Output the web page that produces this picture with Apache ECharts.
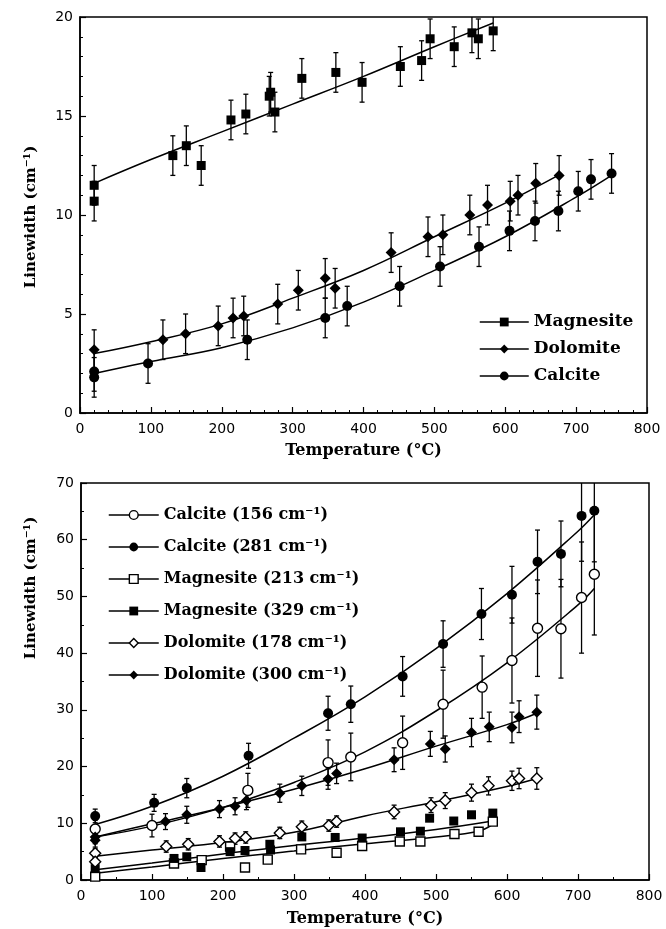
<!DOCTYPE html>
<html>
<head>
<meta charset="utf-8">
<script src="https://cdn.jsdelivr.net/npm/echarts@6/dist/echarts.min.js"></script>
<style>html,body{margin:0;padding:0;background:#fff}#main{width:666px;height:929px}</style>
</head>
<body>
<div id="main"></div>
<script>
// ---- top panel: measured points ----
var magT = [20, 20, 131, 150, 171, 213, 234, 267, 269, 275, 313, 361, 398, 452, 482, 494, 528, 553, 562, 583];
var magW = [11.5, 10.7, 13.0, 13.5, 12.5, 14.8, 15.1, 16.0, 16.2, 15.2, 16.9, 17.2, 16.7, 17.5, 17.8, 18.9, 18.5, 19.2, 18.9, 19.3];
var dolT = [20, 117, 149, 195, 216, 231, 279, 308, 346, 360, 439, 491, 512, 550, 575, 607, 618, 643, 676];
var dolW = [3.2, 3.7, 4.0, 4.4, 4.8, 4.9, 5.5, 6.2, 6.8, 6.3, 8.1, 8.9, 9.0, 10.0, 10.5, 10.7, 11.0, 11.6, 12.0];
var calT = [20, 20, 96, 236, 346, 377, 451, 508, 563, 606, 642, 675, 703, 721, 750];
var calW = [2.1, 1.8, 2.5, 3.7, 4.8, 5.4, 6.4, 7.4, 8.4, 9.2, 9.7, 10.2, 11.2, 11.8, 12.1];
var topErr = 1.0;
// fitted curves
var magFitT = [20, 100, 200, 300, 400, 500, 583];
var magFitW = [11.6, 12.8, 14.2, 15.6, 17.0, 18.5, 19.7];
var dolFitT = [20, 100, 200, 300, 400, 500, 600, 680];
var dolFitW = [3.0, 3.6, 4.5, 5.8, 7.2, 8.9, 10.6, 12.1];
var calFitT = [20, 100, 200, 300, 400, 500, 600, 700, 750];
var calFitW = [2.0, 2.6, 3.3, 4.3, 5.6, 7.2, 8.9, 10.9, 12.0];

// ---- bottom panel ----
var cal156T = [20, 100, 235, 348, 380, 453, 510, 565, 607, 643, 676, 705, 723];
var cal156W = [9.0, 9.6, 15.8, 20.7, 21.7, 24.2, 31.0, 34.0, 38.7, 44.4, 44.3, 49.8, 53.9];
var cal156E = [1.5, 2.0, 3.0, 4.0, 4.2, 4.7, 6.0, 5.5, 7.5, 8.5, 8.7, 9.8, 10.7];
var cal281T = [20, 103, 149, 236, 348, 380, 453, 510, 564, 607, 643, 676, 705, 723];
var cal281W = [11.3, 13.6, 16.2, 21.9, 29.4, 31.0, 35.9, 41.6, 46.9, 50.3, 56.1, 57.5, 64.2, 65.1];
var cal281E = [1.2, 1.5, 1.7, 2.2, 3.0, 3.2, 3.5, 4.1, 4.5, 5.0, 5.6, 5.8, 8.0, 9.0];
var mag213T = [20, 131, 170, 210, 231, 263, 310, 360, 396, 449, 478, 526, 560, 580];
var mag213W = [0.6, 2.9, 3.5, 5.9, 2.2, 3.6, 5.4, 4.8, 6.0, 6.8, 6.8, 8.1, 8.5, 10.3];
var mag329T = [20, 131, 149, 169, 210, 231, 266, 267, 311, 358, 396, 450, 478, 491, 525, 550, 580];
var mag329W = [2.0, 3.8, 4.1, 2.2, 5.0, 5.2, 6.3, 5.3, 7.6, 7.5, 7.4, 8.5, 8.6, 10.9, 10.4, 11.5, 11.8];
var dol178T = [20, 20, 120, 151, 195, 217, 232, 280, 311, 349, 360, 441, 493, 513, 550, 574, 607, 617, 642];
var dol178W = [4.7, 3.2, 5.9, 6.3, 6.8, 7.3, 7.5, 8.3, 9.4, 9.6, 10.3, 12.0, 13.2, 14.0, 15.4, 16.6, 17.5, 17.9, 17.9];
var dol178E = [0.8, 0.8, 1.0, 1.0, 1.0, 1.0, 1.0, 1.0, 1.0, 1.0, 1.0, 1.2, 1.3, 1.4, 1.5, 1.6, 1.7, 1.8, 1.9];
var dol300T = [20, 20, 119, 149, 195, 217, 233, 280, 311, 348, 360, 441, 492, 513, 550, 575, 607, 617, 642];
var dol300W = [7.6, 7.0, 10.3, 11.5, 12.5, 13.0, 14.0, 15.3, 16.6, 17.8, 18.8, 21.2, 24.0, 23.1, 26.0, 27.0, 26.9, 28.8, 29.6];
var dol300E = [1.2, 1.2, 1.4, 1.5, 1.5, 1.5, 1.6, 1.6, 1.7, 1.8, 1.8, 2.1, 2.2, 2.3, 2.5, 2.6, 2.7, 2.8, 3.0];
// fitted curves
var fitT = [20, 100, 200, 300, 400, 500, 600, 700, 723];
var cal156FitW = [7.6, 9.5, 12.8, 17.2, 22.6, 29.8, 38.3, 48.5, 51.4];
var cal281FitW = [9.8, 13.0, 18.3, 25.0, 32.3, 40.8, 50.5, 61.5, 64.4];
var magFitT2 = [20, 100, 200, 300, 400, 500, 560, 580];
var mag213FitW = [1.2, 2.3, 3.8, 5.1, 6.4, 7.6, 8.6, 9.8];
var mag329FitT = [20, 100, 200, 300, 400, 500, 580];
var mag329FitW = [1.8, 3.0, 4.6, 6.1, 7.4, 8.9, 10.4];
var dolFitT2 = [20, 100, 200, 300, 400, 500, 600, 642];
var dol178FitW = [4.2, 5.3, 6.6, 8.4, 11.3, 13.8, 16.5, 17.9];
var dol300FitW = [7.6, 9.9, 12.8, 16.0, 19.6, 23.6, 27.4, 29.4];

var FILLED = {color: '#000', opacity: 1};
var OPEN = {color: '#fff', borderColor: '#000', borderWidth: 1.4, opacity: 1};

function pairs(xs, ys) {
    return xs.map(function (x, i) { return [x, ys[i]]; });
}

function fitLine(name, T, W, symbol, style, gi) {
    return {
        name: name, type: 'line', xAxisIndex: gi, yAxisIndex: gi,
        data: pairs(T, W), smooth: 0.4, showSymbol: false, symbol: symbol,
        lineStyle: {color: '#000', width: 1.5}, itemStyle: style,
        silent: true, z: 2
    };
}

function points(name, T, W, symbol, size, style, gi) {
    return {
        name: name, type: 'scatter', xAxisIndex: gi, yAxisIndex: gi,
        data: pairs(T, W), symbol: symbol, symbolSize: size,
        itemStyle: style, z: 4
    };
}

function errBars(T, W, E, gi) {
    return {
        type: 'custom', xAxisIndex: gi, yAxisIndex: gi, clip: true, z: 1, silent: true,
        data: T.map(function (t, i) {
            var e = typeof E === 'number' ? E : E[i];
            return [t, W[i] - e, W[i] + e];
        }),
        encode: {x: 0, y: [1, 2]},
        renderItem: function (params, api) {
            var lo = api.coord([api.value(0), api.value(1)]);
            var hi = api.coord([api.value(0), api.value(2)]);
            var c = 2.5;
            var st = {stroke: '#000', lineWidth: 1.3};
            return {type: 'group', children: [
                {type: 'line', shape: {x1: lo[0], y1: lo[1], x2: hi[0], y2: hi[1]}, style: st},
                {type: 'line', shape: {x1: lo[0] - c, y1: lo[1], x2: lo[0] + c, y2: lo[1]}, style: st},
                {type: 'line', shape: {x1: hi[0] - c, y1: hi[1], x2: hi[0] + c, y2: hi[1]}, style: st}
            ]};
        }
    };
}

var labelFont = {color: '#000', fontFamily: 'DejaVu Sans', fontSize: 14};
var titleFont = {color: '#000', fontFamily: 'DejaVu Serif', fontWeight: 'bold', fontSize: 16};

function xAxis(gi, minorSplit, gap) {
    return {
        type: 'value', gridIndex: gi, min: 0, max: 800, interval: 100,
        name: 'Temperature (°C)', nameLocation: 'middle', nameGap: gap, nameTextStyle: titleFont,
        axisLine: {lineStyle: {color: '#000', width: 1.5}},
        axisTick: {inside: true, length: 6, lineStyle: {color: '#000', width: 1.2}},
        minorTick: {show: true, splitNumber: minorSplit, length: 3, lineStyle: {color: '#000', width: 1}},
        axisLabel: Object.assign({margin: 9}, labelFont),
        splitLine: {show: false}
    };
}

function yAxis(gi, max, interval, minorSplit) {
    return {
        type: 'value', gridIndex: gi, min: 0, max: max, interval: interval,
        axisLine: {show: true, lineStyle: {color: '#000', width: 1.5}},
        axisTick: {show: true, inside: true, length: 6, lineStyle: {color: '#000', width: 1.2}},
        minorTick: {show: true, splitNumber: minorSplit, length: 3, lineStyle: {color: '#000', width: 1}},
        axisLabel: Object.assign({margin: 7}, labelFont),
        splitLine: {show: false}
    };
}

function legendItem(name, style) {
    return {name: name, itemStyle: style, lineStyle: {color: '#000', width: 1.5}};
}

var topNames = ['Magnesite', 'Dolomite', 'Calcite'];
var botNames = ['Calcite (156 cm\u207B\u00B9)', 'Calcite (281 cm\u207B\u00B9)', 'Magnesite (213 cm\u207B\u00B9)',
    'Magnesite (329 cm\u207B\u00B9)', 'Dolomite (178 cm\u207B\u00B9)', 'Dolomite (300 cm\u207B\u00B9)'];

var chart = echarts.init(document.getElementById('main'));
chart.setOption({
    backgroundColor: '#fff',
    animation: false,
    grid: [
        {left: 80, top: 17, width: 567, height: 396, show: true, borderColor: '#000', borderWidth: 1.5},
        {left: 81, top: 483, width: 568, height: 397, show: true, borderColor: '#000', borderWidth: 1.5}
    ],
    xAxis: [xAxis(0, 5, 30), xAxis(1, 2, 31)],
    yAxis: [yAxis(0, 20, 5, 5), yAxis(1, 70, 10, 2)],
    legend: [
        {
            orient: 'vertical', left: 474, top: 308, itemWidth: 49, itemHeight: 11, itemGap: 9,
            textStyle: {color: '#000', fontFamily: 'DejaVu Serif', fontWeight: 'bold', fontSize: 17, lineHeight: 18},
            data: [legendItem(topNames[0], FILLED), legendItem(topNames[1], FILLED), legendItem(topNames[2], FILLED)]
        },
        {
            orient: 'vertical', left: 103, top: 501, itemWidth: 50, itemHeight: 11, itemGap: 14,
            textStyle: {color: '#000', fontFamily: 'DejaVu Serif', fontWeight: 'bold', fontSize: 16, lineHeight: 18},
            data: [legendItem(botNames[0], OPEN), legendItem(botNames[1], FILLED), legendItem(botNames[2], OPEN),
                legendItem(botNames[3], FILLED), legendItem(botNames[4], OPEN), legendItem(botNames[5], FILLED)]
        }
    ],
    graphic: [
        {type: 'text', x: 31, y: 217, rotation: Math.PI / 2,
            style: {text: 'Linewidth (cm\u207B\u00B9)', fill: '#000', font: 'bold 15px "DejaVu Serif"', align: 'center', verticalAlign: 'middle'}},
        {type: 'text', x: 31, y: 588, rotation: Math.PI / 2,
            style: {text: 'Linewidth (cm\u207B\u00B9)', fill: '#000', font: 'bold 15px "DejaVu Serif"', align: 'center', verticalAlign: 'middle'}}
    ],
    series: [
        // top panel
        fitLine(topNames[0], magFitT, magFitW, 'rect', FILLED, 0),
        fitLine(topNames[1], dolFitT, dolFitW, 'diamond', FILLED, 0),
        fitLine(topNames[2], calFitT, calFitW, 'circle', FILLED, 0),
        errBars(magT, magW, topErr, 0),
        errBars(dolT, dolW, topErr, 0),
        errBars(calT, calW, topErr, 0),
        points(topNames[0], magT, magW, 'rect', 9, FILLED, 0),
        points(topNames[1], dolT, dolW, 'diamond', 11, FILLED, 0),
        points(topNames[2], calT, calW, 'circle', 10, FILLED, 0),
        // bottom panel
        fitLine(botNames[0], fitT, cal156FitW, 'circle', OPEN, 1),
        fitLine(botNames[1], fitT, cal281FitW, 'circle', FILLED, 1),
        fitLine(botNames[2], magFitT2, mag213FitW, 'rect', OPEN, 1),
        fitLine(botNames[3], mag329FitT, mag329FitW, 'rect', FILLED, 1),
        fitLine(botNames[4], dolFitT2, dol178FitW, 'diamond', OPEN, 1),
        fitLine(botNames[5], dolFitT2, dol300FitW, 'diamond', FILLED, 1),
        errBars(cal156T, cal156W, cal156E, 1),
        errBars(cal281T, cal281W, cal281E, 1),
        errBars(dol178T, dol178W, dol178E, 1),
        errBars(dol300T, dol300W, dol300E, 1),
        points(botNames[0], cal156T, cal156W, 'circle', 10, OPEN, 1),
        points(botNames[1], cal281T, cal281W, 'circle', 10, FILLED, 1),
        points(botNames[2], mag213T, mag213W, 'rect', 9, OPEN, 1),
        points(botNames[3], mag329T, mag329W, 'rect', 9, FILLED, 1),
        points(botNames[4], dol178T, dol178W, 'diamond', 11, OPEN, 1),
        points(botNames[5], dol300T, dol300W, 'diamond', 11, FILLED, 1)
    ]
});
</script>
</body>
</html>
